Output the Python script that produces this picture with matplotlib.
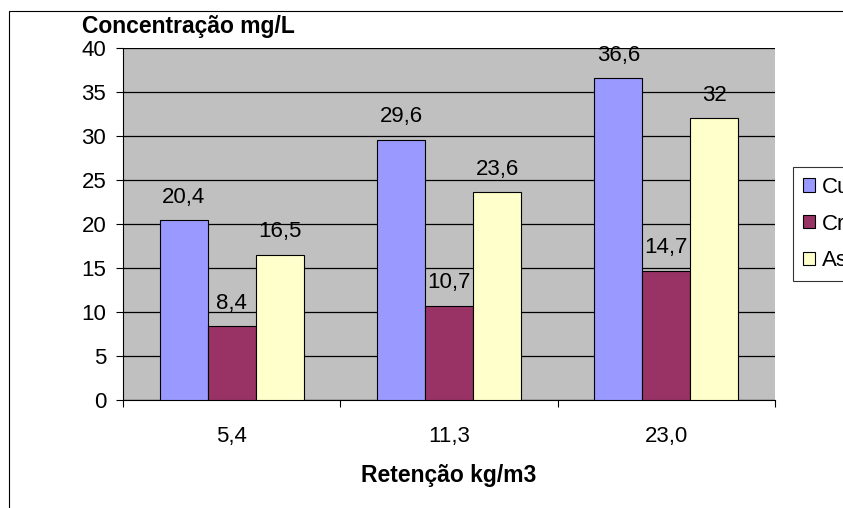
import numpy as np
import matplotlib.pyplot as plt
from matplotlib.patches import Patch, Rectangle

plt.rcParams['font.family'] = ['Liberation Sans', 'DejaVu Sans']

retencao = ['5,4', '11,3', '23,0']
series = ['Cu', 'Cr', 'As']
cu = [20.4, 29.6, 36.6]
cr = [8.4, 10.7, 14.7]
as_ = [16.5, 23.6, 32.0]
cores = ['#9999FF', '#993366', '#FFFFCC']

W, H = 843, 508
fig = plt.figure(figsize=(W/100, H/100), dpi=100)

# moldura do grafico (cortada a direita e embaixo)
fig.patches.append(Rectangle((9/W, -0.1), 1.2, 1 - 11/H + 0.1, transform=fig.transFigure,
                             fill=False, edgecolor='black', linewidth=0.8))

ax = fig.add_axes([123/W, 1 - 400/H, (775-123)/W, (400-48)/H])
ax.set_facecolor('#C0C0C0')

x = np.arange(len(retencao))
w = 0.221
valores = [cu, cr, as_]
for i, (nome, vals) in enumerate(zip(series, valores)):
    barras = ax.bar(x + (i-1)*w, vals, w, color=cores[i], edgecolor='black', linewidth=0.8,
                    label=nome, zorder=3)
    for b, v in zip(barras, vals):
        txt = ('%g' % v).replace('.', ',')
        ax.annotate(txt, (b.get_x() + b.get_width()/2, v), xytext=(0, 12.5),
                    textcoords='offset points', ha='center', va='baseline', fontsize=16, zorder=4)

ax.set_xlim(-0.5, 2.5)
ax.set_ylim(0, 40)
ax.set_yticks(range(0, 41, 5))
ax.yaxis.grid(True, color='black', linewidth=0.9, zorder=1)
ax.set_axisbelow(True)
ax.tick_params(axis='y', length=5, width=0.8, pad=7, labelsize=16)

ax.set_xticks(x)
ax.set_xticklabels(retencao)
ax.set_xticks(np.arange(-0.5, 3, 1), minor=True)
ax.tick_params(axis='x', which='major', length=0, pad=19, labelsize=16)
ax.tick_params(axis='x', which='minor', length=5, width=0.8)

for s in ['top', 'right']:
    ax.spines[s].set_visible(False)
ax.spines['left'].set_linewidth(0.8)
ax.spines['bottom'].set_linewidth(0.8)

fig.text(82/W, 1 - 33/H, 'Concentração mg/L', fontsize=16.5, fontweight='bold', va='baseline')
fig.text(449/W, 1 - 482/H, 'Retenção kg/m3', fontsize=16.5, fontweight='bold',
         va='baseline', ha='center')

handles = [Patch(facecolor=c, edgecolor='black', linewidth=0.8) for c in cores]
leg = fig.legend(handles, series, loc='upper left', bbox_to_anchor=(793/W, 1 - 167/H),
                 fontsize=16, frameon=True, fancybox=False, edgecolor='black',
                 handlelength=0.55, handleheight=0.55, handletextpad=0.3,
                 labelspacing=0.7, borderpad=0.45, borderaxespad=0)
leg.get_frame().set_linewidth(0.8)

fig.savefig('out.png', dpi=100)
